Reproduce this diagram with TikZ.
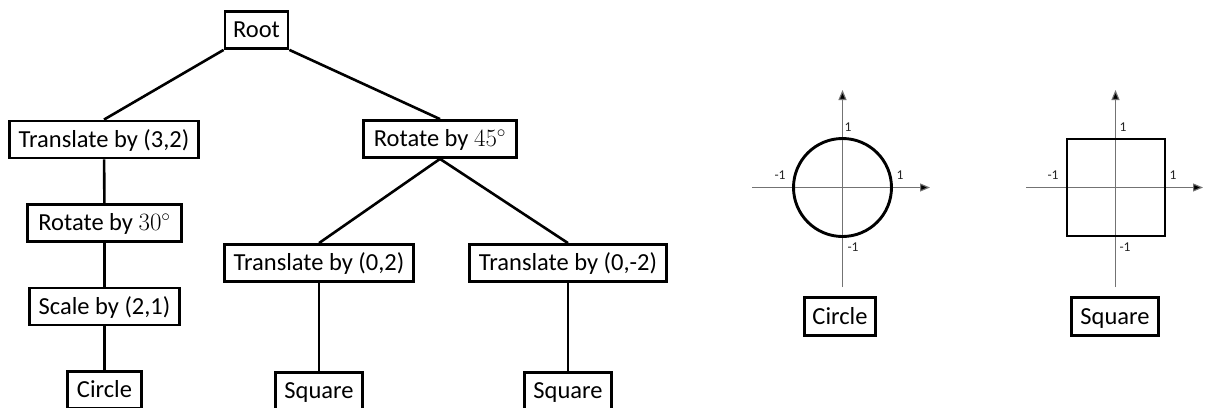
\documentclass[tikz,border=0pt]{standalone}
\usepackage{fontspec}
\setmainfont{Carlito}
\usetikzlibrary{arrows.meta}
\tikzset{
  box/.style={draw=black, line width=2.8pt, inner sep=0pt, minimum height=37pt,
    text height=17pt, text depth=2pt,
    font=\fontsize{24.5}{28}\selectfont},
  edge/.style={draw=black, line width=2.6pt},
  axis/.style={draw=black!55, line width=1.1pt, -{Triangle[length=10pt,width=8pt,fill=black]}},
  tick/.style={font=\fontsize{13.5}{15}\selectfont, text=black!85, inner sep=0pt},
  unitshape/.style={draw=black, line width=2.9pt}
}
\newcommand{\degs}[1]{{\fontsize{25}{27}\selectfont$#1^{\circ}$}}
\begin{document}
\begin{tikzpicture}[x=1pt,y=-1pt]
\useasboundingbox (0,0) rectangle (1207,407);
\clip (0,0) rectangle (1207,407);
\fill[white] (0,0) rectangle (1207,407);

% scene graph
\node[box, minimum width=63pt]  (root) at (256.5,30)  {Root};
\node[box, minimum width=189pt] (t32)  at (104,139.5) {Translate by (3,2)};
\node[box, minimum width=153pt] (r45)  at (440,139)   {Rotate by \degs{45}};
\node[box, minimum width=154pt] (r30)  at (104.5,223) {Rotate by \degs{30}};
\node[box, minimum width=150pt] (s21)  at (104.5,306.5) {Scale by (2,1)};
\node[box, minimum width=74pt]  (c1)   at (104.5,390) {Circle};
\node[box, minimum width=189pt] (t02)  at (319,263)   {Translate by (0,2)};
\node[box, minimum width=197pt] (t0m2) at (568,263)   {Translate by (0,-2)};
\node[box, minimum width=87pt]  (sq1)  at (319,391)   {Square};
\node[box, minimum width=87pt]  (sq2)  at (568,391)   {Square};

\draw[edge] (root.south west) -- (t32.north);
\draw[edge] (root.south east) -- (r45.north);
\draw[edge] (t32) -- (r30);
\draw[edge] (r30) -- (s21);
\draw[edge] (s21) -- (c1);
\draw[edge] (r45.south) -- (t02.north);
\draw[edge] (r45.south) -- (t0m2.north);
\draw[edge] (t02) -- (sq1);
\draw[edge] (t0m2) -- (sq2);

% unit circle
\coordinate (co) at (842.5,187.5);
\coordinate (cxl) at (752,187.5);
\coordinate (cxr) at (930,187.5);
\coordinate (cyb) at (842.5,287);
\coordinate (cyt) at (842.5,90);
\draw[axis] (cxl) -- (cxr);
\draw[axis] (cyb) -- (cyt);
\draw[unitshape] (co) circle (49pt);
\node[tick] (c1t) at (848,127) {1};
\node[tick] (cm1l) at (780,175) {-1};
\node[tick] (c1r) at (900,175) {1};
\node[tick] (cm1b) at (853,247) {-1};
\node[box, minimum width=71pt, minimum height=38pt] (circ) at (840,316.5) {Circle};

% unit square
\coordinate (so) at (1115.5,187.5);
\coordinate (sxl) at (1026,187.5);
\coordinate (sxr) at (1203,187.5);
\coordinate (syb) at (1115.5,287);
\coordinate (syt) at (1115.5,90);
\draw[axis] (sxl) -- (sxr);
\draw[axis] (syb) -- (syt);
\draw[unitshape] (1067,139) rectangle (1165,236);
\node[tick] (s1t) at (1123,127) {1};
\node[tick] (sm1l) at (1053,175) {-1};
\node[tick] (s1r) at (1173,175) {1};
\node[tick] (sm1b) at (1125,247) {-1};
\node[box, minimum width=87pt, minimum height=38pt] (sqr) at (1115,316.5) {Square};
\end{tikzpicture}
\end{document}
